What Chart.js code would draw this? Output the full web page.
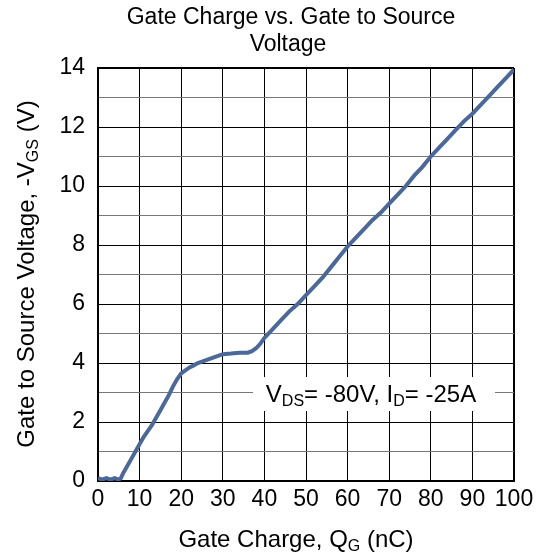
<!DOCTYPE html>
<html>
<head>
<meta charset="utf-8">
<script src="https://cdn.jsdelivr.net/npm/chart.js@4"></script>
<style>
  html, body { margin: 0; padding: 0; background: #fff; }
  #wrap { width: 542px; height: 555px; }
</style>
</head>
<body>
<div id="wrap"><canvas id="gc"></canvas></div>
<script>
// data
const chargeNC = [0, 1, 2, 3, 4, 5, 5.5, 6, 7, 8, 9, 10, 11, 12, 13, 14, 15, 16, 17, 18, 19, 20,
  21, 22, 23, 24, 25, 26, 28, 30, 32, 34, 36, 37, 38, 39, 40, 42, 44, 46, 48, 50, 52, 54,
  56, 58, 60, 62, 64, 66, 68, 70, 72, 74, 76, 78, 80, 82, 84, 86, 88, 90, 92, 94, 96, 98, 100];
const vgsVolts = [0.1, 0.05, 0.1, 0.05, 0.1, 0.05, 0.1, 0.25, 0.5, 0.75, 1.0, 1.25, 1.5, 1.7, 1.9,
  2.15, 2.4, 2.65, 2.9, 3.2, 3.45, 3.65, 3.75, 3.85, 3.92, 4.0, 4.05, 4.1, 4.2, 4.3, 4.32, 4.35,
  4.35, 4.4, 4.5, 4.65, 4.85, 5.15, 5.45, 5.75, 6.0, 6.3, 6.6, 6.9, 7.25, 7.6, 7.95, 8.25, 8.55,
  8.85, 9.1, 9.4, 9.7, 10.0, 10.35, 10.65, 11.0, 11.3, 11.6, 11.9, 12.2, 12.45, 12.75, 13.05,
  13.35, 13.65, 13.95];
const xTicks = [0, 10, 20, 30, 40, 50, 60, 70, 80, 90, 100];
const yTicks = [0, 2, 4, 6, 8, 10, 12, 14];

const FONT = "'Liberation Sans', Arial, sans-serif";
const LINE_COLOR = "#4a6899";

// draws text made of normal / subscript pieces, centred at (cx, cy)
function drawRich(ctx, parts, cx, cy, size) {
  const subSize = Math.round(size * 0.65);
  let total = 0;
  parts.forEach((p) => {
    ctx.font = (p.sub ? subSize : size) + "px " + FONT;
    p.w = ctx.measureText(p.t).width;
    total += p.w;
  });
  let x = cx - total / 2;
  ctx.textAlign = "left";
  ctx.textBaseline = "alphabetic";
  parts.forEach((p) => {
    ctx.font = (p.sub ? subSize : size) + "px " + FONT;
    ctx.fillText(p.t, x, cy + size * 0.36 + (p.sub ? size * 0.2 : 0));
    x += p.w;
  });
}

const labelsPlugin = {
  id: "labels",
  beforeDatasetsDraw(chart) {
    const ctx = chart.ctx;
    // annotation box covers the grid
    ctx.save();
    ctx.fillStyle = "#fff";
    ctx.fillRect(253, 377, 242, 34);
    ctx.fillStyle = "#000";
    drawRich(ctx, [{ t: "V" }, { t: "DS", sub: true }, { t: "= -80V, I" }, { t: "D", sub: true }, { t: "= -25A" }], 371, 393, 24);
    ctx.restore();
  },
  afterDraw(chart) {
    const ctx = chart.ctx;
    ctx.save();
    ctx.fillStyle = "#000";
    ctx.font = "23px " + FONT;
    ctx.textAlign = "center";
    ctx.textBaseline = "middle";
    ctx.fillText("Gate Charge vs. Gate to Source", 291, 18);
    ctx.fillText("Voltage", 288, 45);

    drawRich(ctx, [{ t: "Gate Charge, Q" }, { t: "G", sub: true }, { t: " (nC)" }], 296, 538, 24);

    ctx.translate(25, 274);
    ctx.rotate(-Math.PI / 2);
    drawRich(ctx, [{ t: "Gate to Source Voltage, -V" }, { t: "GS", sub: true }, { t: " (V)" }], 0, 0, 24);
    ctx.restore();
  },
};

new Chart(document.getElementById("gc"), {
  type: "line",
  data: {
    datasets: [{
      data: chargeNC.map((x, i) => ({ x, y: vgsVolts[i] })),
      borderColor: LINE_COLOR,
      borderWidth: 4,
      pointRadius: 0,
      tension: 0,
    }],
  },
  options: {
    responsive: true,
    maintainAspectRatio: false,
    animation: false,
    layout: { padding: { top: 68, right: 28, left: 0, bottom: 0 } },
    plugins: { legend: { display: false }, tooltip: { enabled: false } },
    scales: {
      x: {
        type: "linear",
        min: 0,
        max: 100,
        afterFit: (s) => { s.height = 74; },
        afterBuildTicks: (s) => { s.ticks = xTicks.map((v) => ({ value: v })); },
        ticks: { color: "#000", padding: 5, maxRotation: 0, autoSkip: false, font: { family: FONT, size: 23 } },
        grid: {
          drawTicks: false,
          color: "#000",
          lineWidth: (c) => (c.tick && c.tick.value === 100 ? 2 : 1),
        },
        border: { color: "#000", width: 2 },
      },
      y: {
        min: 0,
        max: 14,
        afterFit: (s) => { s.width = 98; },
        ticks: {
          stepSize: 1,
          color: "#000",
          padding: 13,
          autoSkip: false,
          font: { family: FONT, size: 23 },
          callback: (v) => (yTicks.includes(v) ? String(v) : ""),
        },
        grid: {
          drawTicks: false,
          color: (c) => (c.tick && c.tick.value % 2 === 0 ? "#000" : "#777"),
          lineWidth: (c) => (c.tick && c.tick.value === 14 ? 2 : 1),
        },
        border: { color: "#000", width: 2 },
      },
    },
  },
  plugins: [labelsPlugin],
});
</script>
</body>
</html>
